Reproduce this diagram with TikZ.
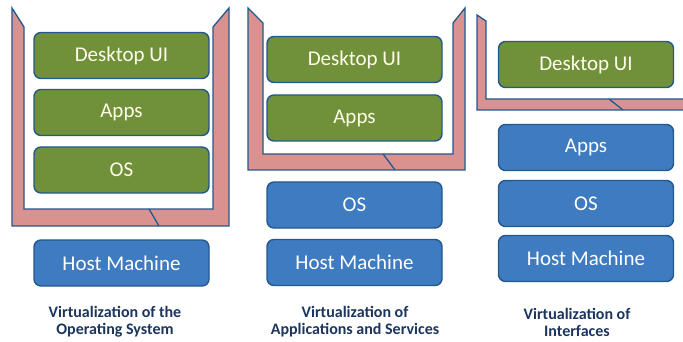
\documentclass[tikz,border=0pt]{standalone}
\usepackage{fontspec}
\setmainfont{Carlito}
\definecolor{olive}{HTML}{71903A}
\definecolor{steel}{HTML}{3F7BC0}
\definecolor{rim}{HTML}{21588F}
\definecolor{shellpink}{HTML}{D9928F}
\definecolor{navy}{HTML}{1B355E}
\tikzstyle{gbox}=[rectangle,rounded corners=7pt,draw=rim,line width=1.4pt,fill=olive,text=yellow!8!white,minimum width=175pt,minimum height=46pt,font=\fontsize{21}{23}\selectfont]
\tikzstyle{bbox}=[gbox,fill=steel,text=white]
\tikzstyle{shell}=[draw=rim,line width=1.3pt,fill=shellpink]
\tikzstyle{lbl}=[align=center,text=navy,font=\fontsize{16}{17}\selectfont\bfseries]

\begin{document}
\begin{tikzpicture}[x=1pt,y=-1pt]
\useasboundingbox (0,0) rectangle (683,342);
\clip (0,0) rectangle (683,342);
% pink shells
\draw[shell] (12,8) -- (12,226) -- (229,226) -- (229,8) -- (213,27) -- (213,209) -- (24,209) -- (24,27) -- cycle; \draw[rim,line width=1.3pt] (149,209) -- (159,226);
\draw[shell] (248,8) -- (248,170) -- (465,170) -- (465,8) -- (453,23) -- (453,154) -- (263,154) -- (263,23) -- cycle; \draw[rim,line width=1.3pt] (383,154) -- (395,170);
\draw[shell] (477,15) -- (477,110) -- (690,110) -- (690,99) -- (486,99) -- (486,21) -- cycle; \draw[rim,line width=1.3pt] (609,99) -- (623,110);
% operating system
\node[gbox] (desk1) at (121.5,55.5) {Desktop UI}; \node[gbox] (apps1) at (121.5,112.5) {Apps}; \node[gbox] (os1) at (121.5,170) {OS}; \node[bbox] (host1) at (121.5,263) {Host Machine};
% applications and services
\node[gbox] (desk2) at (354.5,59.5) {Desktop UI}; \node[gbox] (apps2) at (354.5,118) {Apps}; \node[bbox] (os2) at (354.5,205) {OS}; \node[bbox] (host2) at (354.5,262.5) {Host Machine};
% interfaces
\node[gbox] (desk3) at (586,64.5) {Desktop UI}; \node[bbox] (apps3) at (586,147.5) {Apps}; \node[bbox] (os3) at (586,203.5) {OS}; \node[bbox] (host3) at (586,258.5) {Host Machine};
\node[lbl] (lbl1) at (115,322) {Virtualization of the\\Operating System};
\node[lbl] (lbl2) at (355,322) {Virtualization of\\Applications and Services};
\node[lbl] (lbl3) at (577,322) {Virtualization of\\Interfaces};
\end{tikzpicture}
\end{document}
